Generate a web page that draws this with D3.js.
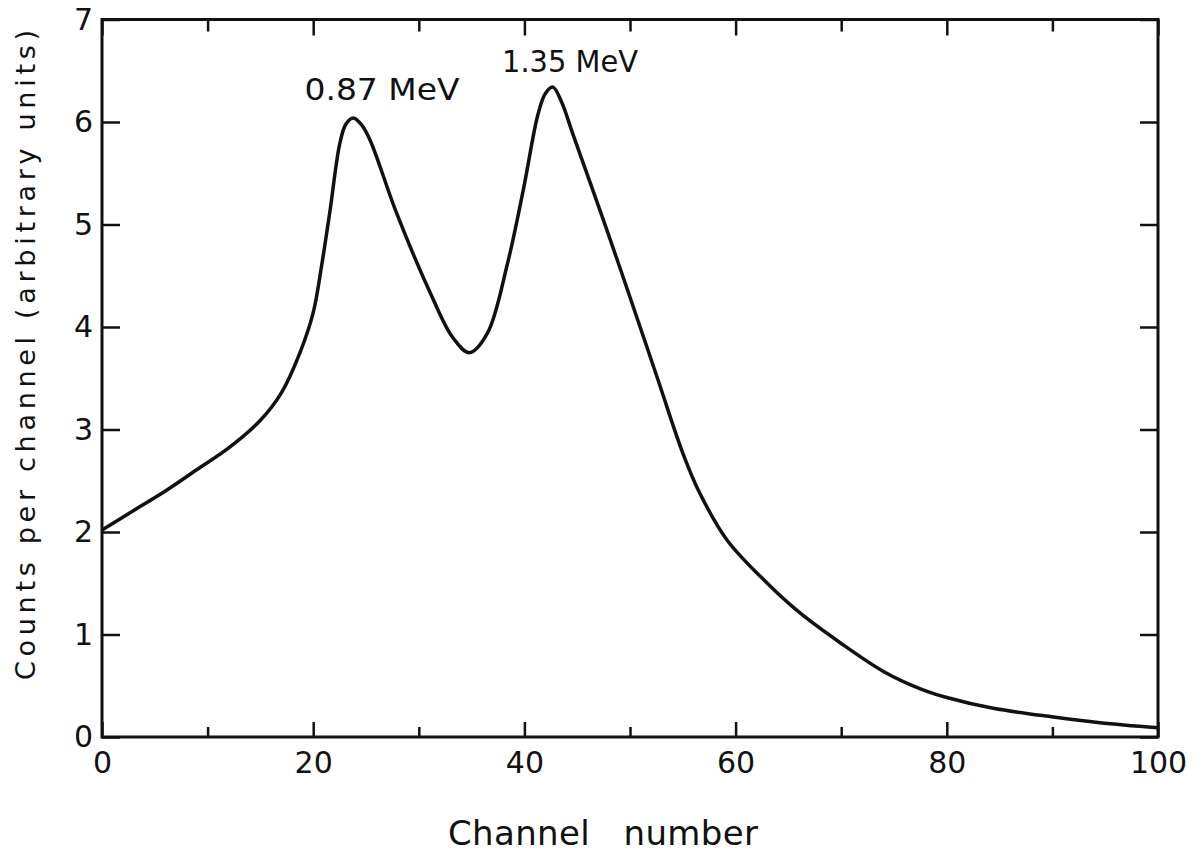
<!DOCTYPE html>
<html>
<head>
<meta charset="utf-8">
<script src="https://cdn.jsdelivr.net/npm/d3@7"></script>
<style>
  body { margin: 0; background: #fff; }
  text { font-family: "DejaVu Sans", "Liberation Sans", sans-serif; fill: #111; }
  .tick line { stroke: #111; stroke-width: 2.5px; }
</style>
</head>
<body>
<script>
(function(){
  //channel numbers and counts
  var channels = [0, 3, 6, 9, 12, 15, 17, 18.75, 20, 20.8, 21.6, 22.5, 23.1, 23.8, 24.6, 25.4, 27.9,
                  31.1, 33.2, 34.8, 36.5, 38.4, 39.9, 41.3, 42.0, 42.7, 43.5, 44.6, 47.8, 50, 52.6,
                  55, 56.6, 59.2, 63, 66.1, 69.9, 74, 77.5, 80, 84.4, 90.1, 94.5, 100];
  var counts = [2.02, 2.21, 2.40, 2.61, 2.82, 3.09, 3.36, 3.75, 4.14, 4.6, 5.14, 5.78, 5.98, 6.04, 5.97, 5.82, 5.11,
                4.33, 3.90, 3.75, 3.94, 4.62, 5.34, 6.08, 6.28, 6.34, 6.20, 5.88, 4.95, 4.29, 3.50,
                2.77, 2.38, 1.92, 1.50, 1.21, 0.92, 0.64, 0.47, 0.385, 0.28, 0.195, 0.14, 0.09];

  var xMajor = [0, 20, 40, 60, 80, 100];
  var xMinor = [10, 30, 50, 70, 90];
  var yTicks = [0, 1, 2, 3, 4, 5, 6, 7];

  var peakLabels = ["0.87 MeV", "1.35 MeV"];

  var width = 1201, height = 854,
      left = 102, right = 1158, top = 19.5, bottom = 737;

  var svg = d3.select("body").append("svg")
      .attr("width", width)
      .attr("height", height);

  var x = d3.scaleLinear().domain([0, 100]).range([left, right]);
  var y = d3.scaleLinear().domain([0, 7]).range([bottom, top]);

  //bottom axis, major ticks with labels
  svg.append("g")
      .attr("transform", "translate(0," + bottom + ")")
      .call(d3.axisBottom(x).tickValues(xMajor).tickSize(-15).tickPadding(15).tickFormat(d3.format("d")))
      .call(function(g){
        g.select(".domain").remove();
        g.selectAll("text").attr("font-size", 30).style("font-family", null);
      });

  //bottom minor ticks
  svg.append("g")
      .attr("transform", "translate(0," + bottom + ")")
      .call(d3.axisBottom(x).tickValues(xMinor).tickSize(-10).tickFormat(""))
      .call(function(g){ g.select(".domain").remove(); });

  //top ticks
  svg.append("g")
      .attr("transform", "translate(0," + top + ")")
      .call(d3.axisTop(x).tickValues(xMajor).tickSize(-16).tickFormat(""))
      .call(function(g){ g.select(".domain").remove(); });
  svg.append("g")
      .attr("transform", "translate(0," + top + ")")
      .call(d3.axisTop(x).tickValues(xMinor).tickSize(-12).tickFormat(""))
      .call(function(g){ g.select(".domain").remove(); });

  //left axis
  svg.append("g")
      .attr("transform", "translate(" + left + ",0)")
      .call(d3.axisLeft(y).tickValues(yTicks).tickSize(-18).tickPadding(9).tickFormat(d3.format("d")))
      .call(function(g){
        g.select(".domain").remove();
        g.selectAll("text").attr("font-size", 30).style("font-family", null);
      });

  //right axis
  svg.append("g")
      .attr("transform", "translate(" + right + ",0)")
      .call(d3.axisRight(y).tickValues(yTicks).tickSize(-18).tickFormat(""))
      .call(function(g){ g.select(".domain").remove(); });

  //frame
  svg.append("rect")
      .attr("x", left)
      .attr("y", top)
      .attr("width", right - left)
      .attr("height", bottom - top)
      .attr("fill", "none")
      .attr("stroke", "#111")
      .attr("stroke-width", 3);

  //spectrum curve
  var line = d3.line()
      .x(function(d){ return x(d[0]); })
      .y(function(d){ return y(d[1]); })
      .curve(d3.curveCatmullRom.alpha(0.5));

  svg.append("path")
      .datum(d3.zip(channels, counts))
      .attr("d", line)
      .attr("fill", "none")
      .attr("stroke", "#111")
      .attr("stroke-width", 3.5)
      .attr("stroke-linejoin", "round");

  //peak labels
  var labelY = [100, 72];
  var labelW = [155, 136];
  var labelX = [382, 570];
  peakLabels.forEach(function(t, i){
    svg.append("text")
        .attr("x", labelX[i])
        .attr("y", labelY[i])
        .attr("text-anchor", "middle")
        .attr("font-size", 31)
        .attr("textLength", labelW[i])
        .attr("lengthAdjust", "spacingAndGlyphs")
        .text(t);
  });

  //axis titles
  svg.append("text")
      .attr("x", 603)
      .attr("y", 845)
      .attr("text-anchor", "middle")
      .attr("font-size", 34)
      .attr("textLength", 310)
      .attr("lengthAdjust", "spacing")
      .style("white-space", "pre")
      .text("Channel   number");

  svg.append("text")
      .attr("transform", "translate(35," + 355 + ") rotate(-90)")
      .attr("text-anchor", "middle")
      .attr("font-size", 27)
      .attr("textLength", 650)
      .attr("lengthAdjust", "spacing")
      .text("Counts per channel (arbitrary units)");
})();
</script>
</body>
</html>
